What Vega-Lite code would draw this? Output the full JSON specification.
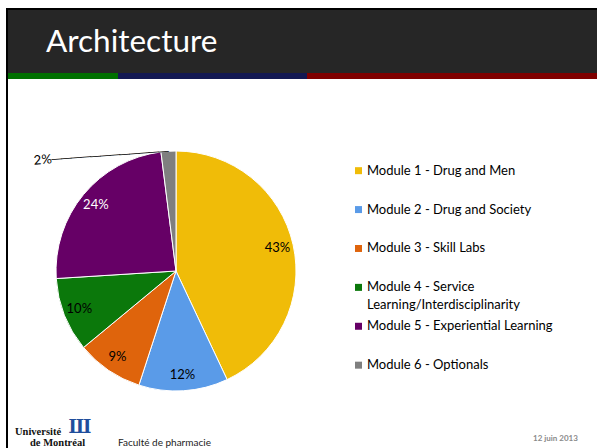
{
  "$schema": "https://vega.github.io/schema/vega-lite/v6.json",
  "padding": {"left": 6, "top": 8, "right": 0, "bottom": 0},
  "background": "#ffffff",
  "config": {"view": {"stroke": null}, "concat": {"spacing": 0}, "font": "Lato"},
  "datasets": {
    "modules": [
      {"module": "Module 1 - Drug and Men", "label": "Module 1 - Drug and Men", "share": 0.43},
      {"module": "Module 2 - Drug and Society", "label": "Module 2 - Drug and Society", "share": 0.12},
      {"module": "Module 3 - Skill Labs", "label": "Module 3 - Skill Labs", "share": 0.09},
      {"module": "Module 4 - Service Learning/Interdisciplinarity", "label": "Module 4 - Service\nLearning/Interdisciplinarity", "share": 0.10},
      {"module": "Module 5 - Experiential Learning", "label": "Module 5 - Experiential Learning", "share": 0.24},
      {"module": "Module 6 - Optionals", "label": "Module 6 - Optionals", "share": 0.02}
    ],
    "none": [],
    "one": [{"k": 1}]
  },
  "spacing": 0,
  "hconcat": [
    {"width": 2, "height": 440, "data": {"name": "none"}, "mark": "rect", "view": {"fill": "#000000", "stroke": null}},
    {
      "spacing": 0,
      "vconcat": [
        {"width": 589, "height": 2, "data": {"name": "none"}, "mark": "rect", "view": {"fill": "#000000", "stroke": null}},
        {
          "width": 589, "height": 63, "data": {"name": "one"}, "view": {"fill": "#262626", "stroke": null},
          "mark": {"type": "text", "text": "Architecture", "x": 38, "y": 42, "align": "left", "baseline": "alphabetic", "font": "Lato", "fontSize": 31.5, "fill": "#ffffff"}
        },
        {
          "spacing": 0,
          "hconcat": [
            {"width": 110, "height": 6, "data": {"name": "none"}, "mark": "rect", "view": {"fill": "#007000", "stroke": null}},
            {"width": 189, "height": 6, "data": {"name": "none"}, "mark": "rect", "view": {"fill": "#131852", "stroke": null}},
            {"width": 290, "height": 6, "data": {"name": "none"}, "mark": "rect", "view": {"fill": "#7f0000", "stroke": null}}
          ]
        },
        {"width": 589, "height": 62, "data": {"name": "none"}, "mark": "rect"},
        {
          "spacing": 0,
          "hconcat": [
            {
              "width": 336, "height": 260,
              "data": {"name": "modules"},
              "encoding": {
                "theta": {"field": "share", "type": "quantitative", "stack": true},
                "order": {"field": "module", "type": "nominal"},
                "detail": {"field": "module", "type": "nominal"}
              },
              "layer": [
                {
                  "mark": {"type": "arc", "outerRadius": 120, "stroke": "#ffffff", "strokeWidth": 1},
                  "encoding": {
                    "color": {
                      "field": "module", "type": "nominal", "legend": null,
                      "scale": {
                        "domain": ["Module 1 - Drug and Men", "Module 2 - Drug and Society", "Module 3 - Skill Labs", "Module 4 - Service Learning/Interdisciplinarity", "Module 5 - Experiential Learning", "Module 6 - Optionals"],
                        "range": ["#f0bc08", "#5a9be8", "#df640c", "#0b780b", "#660066", "#7f7f7f"]
                      }
                    }
                  }
                },
                {
                  "mark": {"type": "text", "radius": 104, "font": "Lato", "fontSize": 13, "align": "center", "baseline": "middle"},
                  "encoding": {
                    "text": {"condition": {"test": "datum.module === 'Module 6 - Optionals'", "value": ""}, "field": "share", "type": "quantitative", "format": ".0%"},
                    "fill": {"condition": {"test": "datum.module === 'Module 5 - Experiential Learning'", "value": "#ffffff"}, "value": "#000000"}
                  }
                },
                {
                  "mark": {"type": "text", "radius": 120, "font": "Lato", "fontSize": 13, "align": "right", "baseline": "middle", "angle": -4, "fill": "#000000"},
                  "encoding": {
                    "text": {"condition": {"test": "datum.module === 'Module 6 - Optionals'", "value": "2%────────────"}, "value": ""}
                  }
                }
              ]
            },
            {
              "width": 29, "height": 260,
              "data": {"name": "modules"},
              "encoding": {
                "y": {"field": "module", "type": "nominal", "axis": null, "scale": {"type": "point", "padding": 0.842, "align": 0.453}}
              },
              "layer": [
                {
                  "mark": {"type": "square", "size": 49, "opacity": 1},
                  "encoding": {
                    "color": {
                      "field": "module", "type": "nominal", "legend": null,
                      "scale": {
                        "domain": ["Module 1 - Drug and Men", "Module 2 - Drug and Society", "Module 3 - Skill Labs", "Module 4 - Service Learning/Interdisciplinarity", "Module 5 - Experiential Learning", "Module 6 - Optionals"],
                        "range": ["#f0bc08", "#5a9be8", "#df640c", "#0b780b", "#660066", "#7f7f7f"]
                      }
                    }
                  }
                },
                {
                  "mark": {"type": "text", "align": "left", "baseline": "top", "dx": 8.5, "dy": -6, "lineBreak": "\n", "lineHeight": 18, "font": "Lato", "fontSize": 13, "fill": "#000000"},
                  "encoding": {"text": {"field": "label", "type": "nominal"}}
                }
              ]
            }
          ]
        },
        {
          "width": 589, "height": 47, "data": {"name": "one"},
          "layer": [
            {"mark": {"type": "text", "text": "Université", "x": 7, "y": 34, "align": "left", "baseline": "alphabetic", "font": "Liberation Serif", "fontWeight": "bold", "fontSize": 10.5, "fill": "#111111"}},
            {"mark": {"type": "text", "text": "de Montréal", "x": 22, "y": 44.5, "align": "left", "baseline": "alphabetic", "font": "Liberation Serif", "fontWeight": "bold", "fontSize": 10.5, "fill": "#111111"}},
            {"mark": {"type": "text", "text": "Ш", "x": 72, "y": 32, "align": "center", "baseline": "alphabetic", "font": "DejaVu Serif", "fontWeight": "bold", "fontSize": 18, "fill": "#1f4e9c"}},
            {"mark": {"type": "text", "text": "Faculté de pharmacie", "x": 110, "y": 44.5, "align": "left", "baseline": "alphabetic", "font": "Lato", "fontSize": 10, "fill": "#222222"}},
            {"mark": {"type": "text", "text": "12 juin 2013", "x": 525, "y": 40, "align": "left", "baseline": "alphabetic", "font": "Lato", "fontWeight": "bold", "fontSize": 8, "fill": "#8a8a8a"}}
          ]
        }
      ]
    }
  ]
}
